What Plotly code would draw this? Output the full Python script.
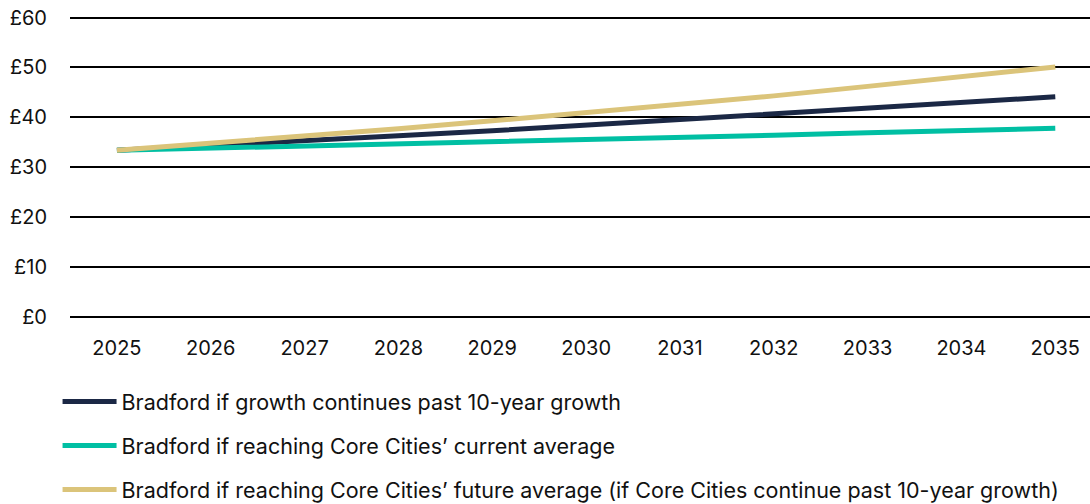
import plotly.graph_objects as go

years = ["2025", "2026", "2027", "2028", "2029", "2030", "2031", "2032", "2033", "2034", "2035"]
past_growth = [33.4, 34.3, 35.3, 36.3, 37.3, 38.4, 39.5, 40.6, 41.7, 42.9, 44.1]
current_avg = [33.4, 33.8, 34.2, 34.7, 35.1, 35.5, 36.0, 36.4, 36.9, 37.3, 37.8]
future_avg = [33.4, 34.8, 36.2, 37.7, 39.3, 40.9, 42.6, 44.3, 46.2, 48.1, 50.1]

names = [
    "Bradford if growth continues past 10-year growth",
    "Bradford if reaching Core Cities’ current average",
    "Bradford if reaching Core Cities’ future average (if Core Cities continue past 10-year growth)",
]
colors = ["#1B2845", "#00BFA3", "#DBC47A"]
series = [past_growth, current_avg, future_avg]

fig = go.Figure()
for i, (n, c, s) in enumerate(zip(names, colors, series)):
    fig.add_trace(go.Scatter(
        x=years, y=s, name=n, mode="lines", legendgroup=f"g{i}",
        line=dict(color=c, width=5),
    ))

fig.update_layout(
    width=1090, height=504,
    margin=dict(l=70, r=0, t=16, b=187, autoexpand=False),
    paper_bgcolor="white", plot_bgcolor="white",
    font=dict(family="Inter, Arial, sans-serif", size=20, color="#111111"),
    showlegend=True,
    legend=dict(
        orientation="v", x=-0.0122, xanchor="left", y=-0.213, yanchor="top",
        font=dict(size=21.5, color="#111111"), itemwidth=54,
        tracegroupgap=13, traceorder="grouped",
    ),
    xaxis=dict(
        type="category", range=[-0.5, 10.37], showgrid=False, zeroline=False,
        showline=False, ticks="", ticklabelstandoff=17,
        tickfont=dict(size=20),
    ),
    yaxis=dict(
        range=[0, 60.3], dtick=10, tickprefix="£", showgrid=True,
        gridcolor="#000000", gridwidth=1.5, zeroline=True, zerolinecolor="#000000",
        zerolinewidth=1.5, showline=False, ticks="", ticklabelstandoff=22,
        tickfont=dict(size=20),
    ),
)

fig.write_html(
    "out.html",
    config={"displayModeBar": False},
    post_script="document.body.style.margin='0';document.body.style.overflow='hidden';",
)
